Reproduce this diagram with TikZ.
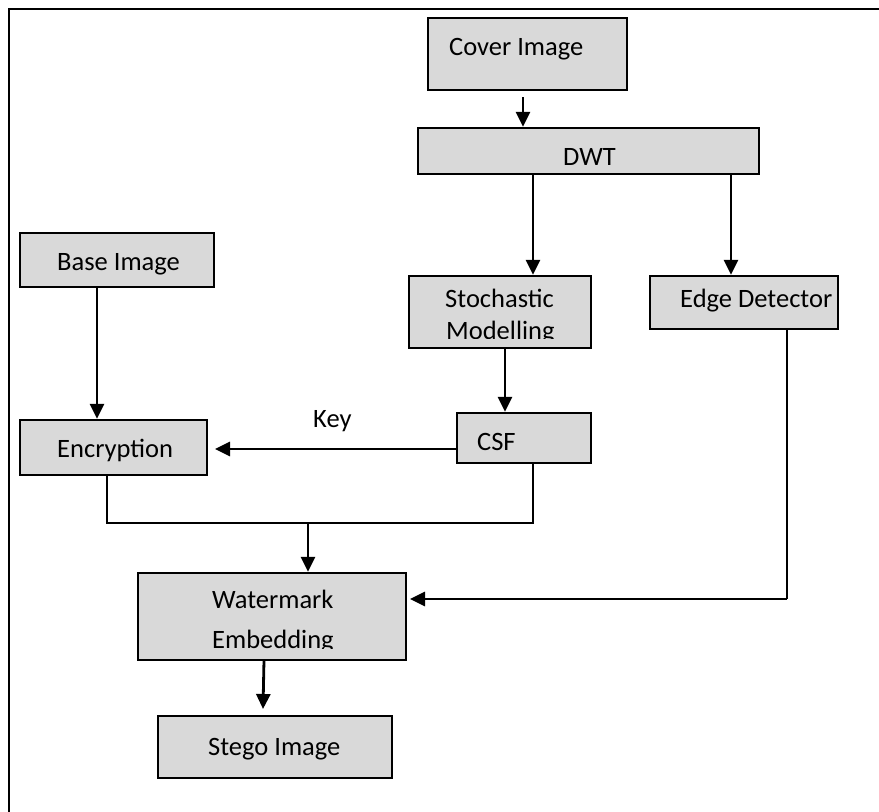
\documentclass[tikz,border=0pt]{standalone}
\usepackage{fontspec}
\setmainfont{Carlito}
\usetikzlibrary{arrows.meta}
\definecolor{boxgray}{HTML}{D9D9D9}
\tikzset{
  box/.style={draw=black, fill=boxgray, line width=2.4pt, inner sep=0pt, rectangle},
  txt/.style={inner sep=0pt, anchor=base west, font=\fontsize{26.5}{30}\selectfont},
  arr/.style={line width=2.8pt, -{Triangle[width=14pt,length=15pt]}},
  thin/.style={line width=1.9pt},
  frameline/.style={line width=2.8pt}
}
\begin{document}
\begin{tikzpicture}[x=1pt,y=-1pt]
\useasboundingbox (0,0) rectangle (879,812);
% frame (top and left only)
\draw[frameline] (9,812) -- (9,9) -- (879,9);

% boxes
\node[box, minimum width=199pt, minimum height=72pt] (cover) at (527.5,54) {};
\node[box, minimum width=341pt, minimum height=46pt] (dwt) at (588.5,151) {};
\node[box, minimum width=182pt, minimum height=72pt] (stoch) at (500,312) {};
\node[box, minimum width=188pt, minimum height=53pt] (edge) at (744,302.5) {};
\node[box, minimum width=194pt, minimum height=54pt] (base) at (117,260) {};
\node[box, minimum width=187pt, minimum height=55pt] (enc) at (113.5,447.5) {};
\node[box, minimum width=134pt, minimum height=50pt] (csf) at (524,438) {};
\node[box, minimum width=268pt, minimum height=87pt] (wm) at (272,616.5) {};
\node[box, minimum width=234pt, minimum height=62pt] (stego) at (275,747) {};

% texts
\node[txt] (tcover) at (449,55) {Cover Image};
\node[txt] (tdwt) at (563,165) {DWT};
\node[txt] (tedge) at (680,307) {Edge Detector};
\node[txt] (tbase) at (57,270) {Base Image};
\node[txt] (tenc) at (57,457) {Encryption};
\node[txt] (tcsf) at (477,450) {CSF};
\node[txt] (tkey) at (313,427) {Key};
\node[txt] (tstego) at (208,755) {Stego Image};
\node[txt] (tstoch) at (445,307) {Stochastic};
\begin{scope}
  \clip (410,300) rectangle (590,338);
  \node[txt] (tmodel) at (446,339) {Modelling};
\end{scope}
\node[txt] (twm) at (212,608) {Watermark};
\begin{scope}
  \clip (140,600) rectangle (404,648);
  \node[txt] (tembed) at (212,648) {Embedding};
\end{scope}

% connectors
\coordinate (c1) at (523,97);
\draw[arr] (c1) -- (c1 |- dwt.north);
\coordinate (c2) at (533,174);
\draw[arr] (c2) -- (c2 |- stoch.north);
\coordinate (c3) at (731,174);
\draw[arr] (c3) -- (c3 |- edge.north);
\coordinate (c4) at (97,287);
\draw[arr] (c4) -- (c4 |- enc.north);
\coordinate (c5) at (505,348);
\draw[arr] (c5) -- (c5 |- csf.north);
% key
\coordinate (k1) at (215,449);
\draw[arr] (csf.west |- k1) -- (k1);
% join of enc and csf
\coordinate (j1) at (107,523);
\coordinate (j2) at (533,523);
\draw[thin] (j1 |- enc.south) -- (j1) -- (j2) -- (j2 |- csf.south);
\coordinate (j3) at (308,523);
\draw[arr] (j3) -- (j3 |- wm.north);
% edge detector to watermark
\coordinate (e1) at (787,599);
\coordinate (e2) at (410,599);
\draw[thin] (e1 |- edge.south) -- (e1);
\draw[arr] (e1) -- (e2);
% watermark to stego
\coordinate (s1) at (264,660);
\coordinate (s2) at (263,709);
\draw[arr] (s1) -- (s2);
\end{tikzpicture}
\end{document}
